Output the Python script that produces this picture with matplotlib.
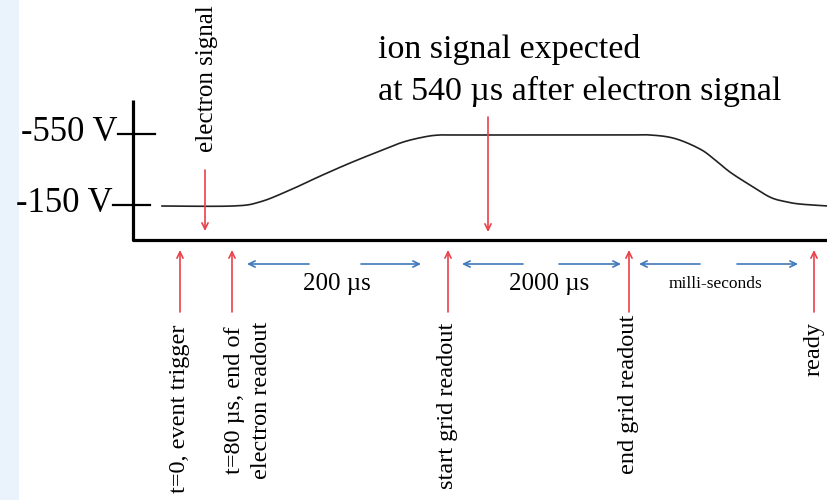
import numpy as np
import matplotlib.pyplot as plt

plt.rcParams['font.family'] = ['Liberation Serif', 'DejaVu Serif']

# drawing is laid out on a pixel grid: x to the right, y downward
W, H = 828, 500

# grid voltage waveform (x position, volts)
wave_x = [162, 233, 260, 290, 320, 350, 380, 403, 425, 440, 460,
          620, 650, 675, 700, 715, 730, 750, 770, 785, 800, 828]
wave_v = [-150, -150, -173, -240, -318, -392, -460, -510, -540, -550, -550,
          -550, -550, -530, -471, -410, -341, -268, -200, -175, -161, -150]

volt_ticks = [-550, -150]
volt_labels = ['-550 V', '-150 V']

# timeline events (x position, label)
event_x = [180, 232, 448, 629, 814]
event_labels = ['t=0, event trigger',
                't=80 \u00b5s, end of\nelectron readout',
                'start grid readout',
                'end grid readout',
                'ready']
event_label_x = [180, 248, 448, 629, 814]
event_label_top = [325, 322, 323, 315, 322]

# intervals between events: (left end, gap start, gap end, right end)
spans = [(247, 309, 361, 421), (462, 523, 559, 621), (639, 700, 737, 798)]
span_labels = ['200 \u00b5s', '2000 \u00b5s', 'milli-seconds']
span_label_x = [337, 549, 716]
span_label_size = [18, 18, 12.5]

# signals marked on the waveform
electron_x = 205
ion_x = 488

RED = '#e8414c'
BLUE = '#3f79b9'


def v_to_y(v):
    # -150 V sits at y=206, -550 V at y=135
    return 206 + (np.asarray(v, dtype=float) + 150) * (71 / 400)


def smooth(xs, ys, n=12):
    # Catmull-Rom pass through the knots so the trace has no corners
    xs = np.asarray(xs, dtype=float)
    ys = np.asarray(ys, dtype=float)
    px = np.concatenate([[xs[0]], xs, [xs[-1]]])
    py = np.concatenate([[ys[0]], ys, [ys[-1]]])
    out_x, out_y = [], []
    t = np.linspace(0, 1, n, endpoint=False)
    for i in range(1, len(px) - 2):
        for p, out in ((px, out_x), (py, out_y)):
            p0, p1, p2, p3 = p[i - 1], p[i], p[i + 1], p[i + 2]
            out.extend(0.5 * (2 * p1 + (-p0 + p2) * t
                              + (2 * p0 - 5 * p1 + 4 * p2 - p3) * t ** 2
                              + (-p0 + 3 * p1 - 3 * p2 + p3) * t ** 3))
    out_x.append(xs[-1])
    out_y.append(ys[-1])
    return out_x, out_y


fig = plt.figure(figsize=(W / 100, H / 100), dpi=100)
ax = fig.add_axes([0, 0, 1, 1])
ax.set_xlim(0, W)
ax.set_ylim(H, 0)
ax.axis('off')

ax.axvspan(0, 19, color='#eaf3fb', lw=0)

# axes of the diagram
ax.plot([133, 133, W], [100, 240, 240], color='black', lw=2.3,
        solid_joinstyle='round', solid_capstyle='butt')
tick_x0 = [118, 113]
for v, lab, x0 in zip(volt_ticks, volt_labels, tick_x0):
    y = v_to_y(v) - 1
    ax.plot([x0, x0 + 37], [y, y], color='black', lw=1.6)
    ax.text(x0, y + 7, lab, ha='right', va='baseline', fontsize=25)

sx, sy = smooth(wave_x, v_to_y(wave_v))
ax.plot(sx, sy, color='#222222', lw=1.2, solid_joinstyle='round')

red_head = '->,head_length=0.45,head_width=0.22'

# electron signal arrow
ax.annotate('', xy=(electron_x, 231), xytext=(electron_x, 170),
            arrowprops=dict(arrowstyle=red_head, color=RED, lw=1.2,
                            shrinkA=0, shrinkB=0))
ax.text(electron_x + 2, 5, 'electron signal', rotation=90,
        ha='center', va='top', fontsize=18)

# ion signal arrow
ax.annotate('', xy=(ion_x, 232), xytext=(ion_x, 117),
            arrowprops=dict(arrowstyle=red_head, color=RED, lw=1.2,
                            shrinkA=0, shrinkB=0))
ax.text(378, 58, 'ion signal expected', ha='left', va='baseline', fontsize=24.5)
ax.text(378, 100, 'at 540 \u00b5s after electron signal', ha='left',
        va='baseline', fontsize=24.5)

# events below the time axis
for x, lx, top, lab in zip(event_x, event_label_x, event_label_top, event_labels):
    ax.annotate('', xy=(x, 250), xytext=(x, 312),
                arrowprops=dict(arrowstyle=red_head, color=RED, lw=1.2,
                                shrinkA=0, shrinkB=0))
    ax.text(lx, top, lab, rotation=90, ha='center', va='top',
            multialignment='center', fontsize=17.5, linespacing=1.35)

# interval arrows
blue_head = '->,head_length=0.45,head_width=0.22'
for (x0, g0, g1, x1), lab, lx, fs in zip(spans, span_labels, span_label_x,
                                         span_label_size):
    ax.annotate('', xy=(x0, 264), xytext=(g0, 264),
                arrowprops=dict(arrowstyle=blue_head, color=BLUE, lw=1.2,
                                shrinkA=0, shrinkB=0))
    ax.annotate('', xy=(x1, 264), xytext=(g1, 264),
                arrowprops=dict(arrowstyle=blue_head, color=BLUE, lw=1.2,
                                shrinkA=0, shrinkB=0))
    ax.text(lx, 284, lab, ha='center', va='center', fontsize=fs)

fig.savefig('out.png', dpi=100)
